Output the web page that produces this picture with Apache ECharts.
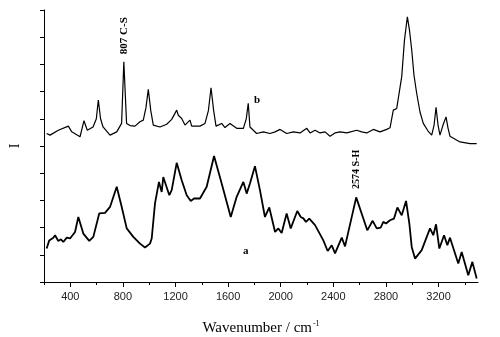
<!DOCTYPE html>
<html>
<head>
<meta charset="utf-8">
<script src="https://cdn.jsdelivr.net/npm/echarts@6/dist/echarts.min.js"></script>
<style>
  html, body { margin: 0; padding: 0; background: #ffffff; }
  #chart { width: 500px; height: 337px; }
</style>
</head>
<body>
<div id="chart"></div>
<script>
// Raman spectra: (b) upper trace, (a) lower trace. Intensity in arbitrary, offset units.
const waveB = [220, 246, 309, 385, 411, 474, 504, 529, 573, 598, 613, 630, 649, 702, 753, 790, 807, 828, 854,
  892, 930, 955, 975, 993, 1012, 1031, 1082, 1133, 1171, 1209, 1221, 1247, 1272, 1310, 1323, 1386, 1424,
  1450, 1470, 1490, 1508, 1551, 1576, 1614, 1665, 1716, 1738, 1753, 1766, 1817, 1868, 1918, 1957, 1995,
  2045, 2096, 2147, 2198, 2223, 2261, 2299, 2337, 2375, 2413, 2451, 2502, 2578, 2616, 2654, 2704, 2755,
  2806, 2831, 2856, 2882, 2920, 2941, 2963, 2979, 2996, 3013,
  3034, 3059, 3084, 3120, 3148, 3166, 3181, 3196, 3211, 3234, 3257, 3272, 3287, 3363, 3439, 3490];
const intensityB = [5.46, 5.40, 5.58, 5.73, 5.52, 5.34, 5.93, 5.58, 5.70, 6.00, 6.69, 6.00, 5.70, 5.40, 5.52, 5.83, 8.10, 5.83, 5.75,
  5.73, 5.89, 5.95, 6.40, 7.08, 6.30, 5.77, 5.70, 5.80, 5.98, 6.32, 6.13, 6.01, 5.77, 5.95, 5.73, 5.73, 5.83,
  6.30, 7.14, 6.30, 5.73, 5.83, 5.68, 5.83, 5.65, 5.65, 6.00, 6.57, 5.70, 5.46, 5.52, 5.46, 5.52, 5.61,
  5.46, 5.52, 5.48, 5.65, 5.48, 5.58, 5.48, 5.52, 5.36, 5.48, 5.52, 5.48, 5.58, 5.52, 5.48, 5.61, 5.52,
  5.61, 5.67, 6.32, 6.38, 7.55, 8.90, 9.75, 9.26, 8.53, 7.61,
  6.93, 6.25, 5.83, 5.55, 5.40, 5.77, 6.42, 5.77, 5.40, 5.77, 6.07, 5.66, 5.36, 5.15, 5.09, 5.09];

const waveA = [220, 240, 271, 284, 309, 329, 347, 373, 398, 411, 436, 461, 499, 544, 575, 620, 664, 702, 753,
  791, 829, 879, 930, 968, 1006, 1019, 1044, 1074, 1095, 1107, 1120, 1133, 1153, 1171, 1209, 1247, 1285,
  1316, 1341, 1386, 1437, 1493, 1551, 1620, 1665, 1716, 1741, 1766, 1804, 1842, 1880, 1913, 1957, 1982,
  2007, 2045, 2076, 2126, 2152, 2172, 2192, 2217, 2261, 2324, 2357, 2388, 2413, 2464, 2489, 2574, 2658,
  2699, 2730, 2760, 2780, 2800, 2831, 2861, 2887, 2920, 2953, 2978, 2996, 3021, 3072, 3135, 3160, 3181,
  3206, 3242, 3267, 3287, 3350, 3376, 3426, 3457, 3490];
const intensityA = [1.23, 1.53, 1.63, 1.72, 1.51, 1.57, 1.47, 1.63, 1.60, 1.63, 1.84, 2.39, 1.78, 1.51, 1.66, 2.52, 2.54, 2.76, 3.50,
  2.76, 1.97, 1.66, 1.41, 1.27, 1.41, 1.60, 2.89, 3.68, 3.31, 3.86, 3.67, 3.72, 3.19, 3.38, 4.38, 3.74, 3.19,
  2.98, 3.07, 3.07, 3.50, 4.63, 3.62, 2.39, 3.13, 3.68, 3.25, 3.62, 4.26, 3.38, 2.39, 2.74, 1.84, 1.97,
  1.80, 2.52, 1.97, 2.61, 2.39, 2.34, 2.21, 2.33, 2.09, 1.53, 1.14, 1.35, 1.05, 1.63, 1.31, 3.11, 1.90,
  2.25, 1.97, 2.00, 2.21, 2.15, 2.27, 2.33, 2.74, 2.45, 2.98, 2.15, 1.29, 0.86, 1.17, 1.97, 1.72, 2.12,
  1.23, 1.72, 1.35, 1.63, 0.68, 1.10, 0.25, 0.74, 0.13];

// Annotated bands
const bandCS = 807;   // C-S stretch in trace b
const bandSH = 2574;  // S-H stretch in trace a

// Axis ticks
const xMajorTicks = [400, 800, 1200, 1600, 2000, 2400, 2800, 3200];
const xMinorTicks = [200, 600, 1000, 1400, 1800, 2200, 2600, 3000, 3400];

const zip = (xs, ys) => xs.map((x, i) => [x, ys[i]]);
const peakOf = (xs, ys, w) => ys[xs.indexOf(w)];

const serif = '"Liberation Serif", "Times New Roman", serif';
const sans = '"Liberation Sans", Arial, sans-serif';

const chart = echarts.init(document.getElementById('chart'), null, { renderer: 'canvas' });

const bandLabel = (text, dist, dx, size) => ({
  show: true,
  formatter: text,
  position: 'top',
  distance: dist,
  offset: [dx, 0],
  rotate: 90,
  align: 'left',
  verticalAlign: 'middle',
  fontFamily: serif,
  fontWeight: 'bold',
  fontSize: size,
  color: '#000'
});

chart.setOption({
  backgroundColor: '#ffffff',
  animation: false,
  grid: { left: 44, right: 22, top: 10, bottom: 55, outerBoundsMode: 'none', containLabel: false },
  xAxis: [
    {
      type: 'value', min: 200, max: 3500,
      name: '{t|Wavenumber / cm}{s|-1}',
      nameLocation: 'middle', nameGap: 38,
      nameTextStyle: {
        rich: {
          t: { fontFamily: serif, fontSize: 15, color: '#000' },
          s: { fontFamily: serif, fontSize: 8, color: '#000', verticalAlign: 'top', padding: [0, 0, 8, 1] }
        }
      },
      axisLine: { show: true, onZero: false, lineStyle: { color: '#000', width: 1 } },
      axisTick: { show: true, inside: false, length: 3, customValues: xMinorTicks, lineStyle: { color: '#000' } },
      axisLabel: {
        show: true, customValues: xMajorTicks, margin: 9,
        formatter: (v) => String(v),
        fontFamily: sans, fontSize: 11, color: '#222'
      },
      splitLine: { show: false }
    },
    {
      type: 'value', min: 200, max: 3500, position: 'bottom',
      axisLine: { show: false },
      axisTick: { show: true, inside: false, length: 5, customValues: xMajorTicks, lineStyle: { color: '#000' } },
      axisLabel: { show: false },
      splitLine: { show: false }
    }
  ],
  yAxis: {
    type: 'value', min: 0, max: 10, interval: 1,
    name: 'I', nameLocation: 'middle', nameGap: 22, nameRotate: 90,
    nameTextStyle: { fontFamily: serif, fontSize: 14, color: '#000' },
    axisLine: { show: true, onZero: false, lineStyle: { color: '#000', width: 1 } },
    axisTick: { show: true, inside: false, length: 4, lineStyle: { color: '#000' } },
    axisLabel: { show: false },
    splitLine: { show: false }
  },
  series: [
    {
      name: 'b', type: 'line', xAxisIndex: 0,
      data: zip(waveB, intensityB),
      showSymbol: false, symbol: 'none',
      lineStyle: { color: '#000', width: 1.2 },
      markPoint: {
        symbol: 'circle', symbolSize: 1,
        itemStyle: { color: 'rgba(0,0,0,0)' },
        data: [{ coord: [bandCS, peakOf(waveB, intensityB, bandCS)], label: bandLabel(bandCS + ' C-S', 6, 1, 11) }]
      }
    },
    {
      name: 'a', type: 'line', xAxisIndex: 0,
      data: zip(waveA, intensityA),
      showSymbol: false, symbol: 'none',
      lineStyle: { color: '#000', width: 1.8 },
      markPoint: {
        symbol: 'circle', symbolSize: 1,
        itemStyle: { color: 'rgba(0,0,0,0)' },
        data: [{ coord: [bandSH, peakOf(waveA, intensityA, bandSH)], label: bandLabel(bandSH + ' S-H', 4, 4, 10) }]
      }
    }
  ],
  graphic: [
    { type: 'text', left: 254, top: 95, style: { text: 'b', font: 'bold 11px ' + serif, fill: '#000' } },
    { type: 'text', left: 243, top: 246, style: { text: 'a', font: 'bold 11px ' + serif, fill: '#000' } }
  ]
});
</script>
</body>
</html>
